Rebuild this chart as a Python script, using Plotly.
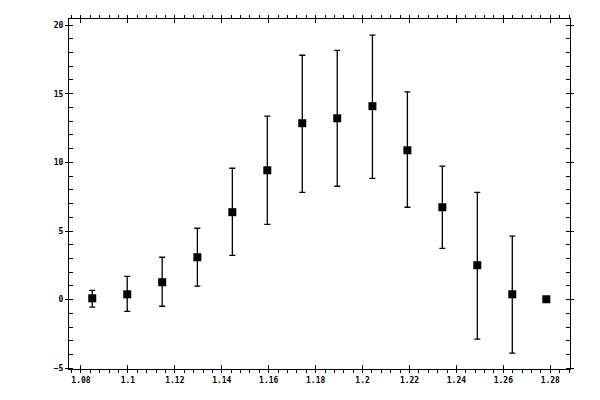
import plotly.graph_objects as go

# values
x_vals = [1.0848, 1.0997, 1.1146, 1.1296, 1.1445, 1.1594, 1.1743,
          1.1892, 1.2042, 1.2191, 1.2340, 1.2489, 1.2638, 1.2783]
y_vals = [0.10, 0.39, 1.27, 3.09, 6.37, 9.42, 12.85,
          13.21, 14.09, 10.88, 6.73, 2.51, 0.39, 0.03]
y_upper = [0.68, 1.70, 3.09, 5.20, 9.57, 13.36, 17.80,
           18.16, 19.26, 15.13, 9.72, 7.82, 4.62, 0.03]
y_lower = [-0.55, -0.85, -0.48, 0.98, 3.23, 5.49, 7.82,
           8.26, 8.84, 6.73, 3.74, -2.88, -3.90, 0.03]

err_plus = [u - y for u, y in zip(y_upper, y_vals)]
err_minus = [y - l for l, y in zip(y_lower, y_vals)]

X_RANGE = [1.07489, 1.2884]
Y_RANGE = [-5.05, 20.44]
FONT = dict(family='DejaVu Sans Mono', size=8, color='black', weight='bold')

fig = go.Figure()
fig.add_trace(go.Scatter(
    x=x_vals, y=y_vals, mode='markers',
    marker=dict(symbol='square', size=8, color='black'),
    error_y=dict(type='data', symmetric=False, array=err_plus, arrayminus=err_minus,
                 color='black', thickness=1.3, width=3),
    showlegend=False))
# dummy trace so the overlay axes (inward half of the crossing ticks) get drawn
fig.add_trace(go.Scatter(x=x_vals, y=y_vals, xaxis='x2', yaxis='y2', mode='none',
                         hoverinfo='skip', showlegend=False))

axis_common = dict(showgrid=False, zeroline=False, showline=True, linecolor='black',
                   linewidth=1, mirror='allticks', tickcolor='black', tickwidth=1)

fig.update_layout(
    width=600, height=400,
    margin=dict(l=69, r=30, t=19, b=31),
    paper_bgcolor='white', plot_bgcolor='white',
    font=FONT,
    xaxis=dict(range=X_RANGE, tick0=1.08, dtick=0.02, ticks='outside', ticklen=3,
               minor=dict(dtick=0.004, tick0=1.08, ticks='outside', ticklen=3,
                          tickcolor='black'),
               tickfont=FONT, **axis_common),
    yaxis=dict(range=Y_RANGE, tick0=0, dtick=5, ticks='outside', ticklen=3,
               minor=dict(dtick=1, ticks='inside', ticklen=4, tickcolor='black'),
               tickfont=FONT, **axis_common),
    xaxis2=dict(range=X_RANGE, overlaying='x', tick0=1.08, dtick=0.02, ticks='inside',
                ticklen=4, showticklabels=False, **axis_common),
    yaxis2=dict(range=Y_RANGE, overlaying='y', tick0=0, dtick=5, ticks='inside',
                ticklen=4, showticklabels=False, **axis_common),
)

# drop the browser's default 8px body margin so the figure sits at the window corner
fig.write_html("out.html", config={'displayModeBar': False},
               post_script="document.body.style.margin='0';")
